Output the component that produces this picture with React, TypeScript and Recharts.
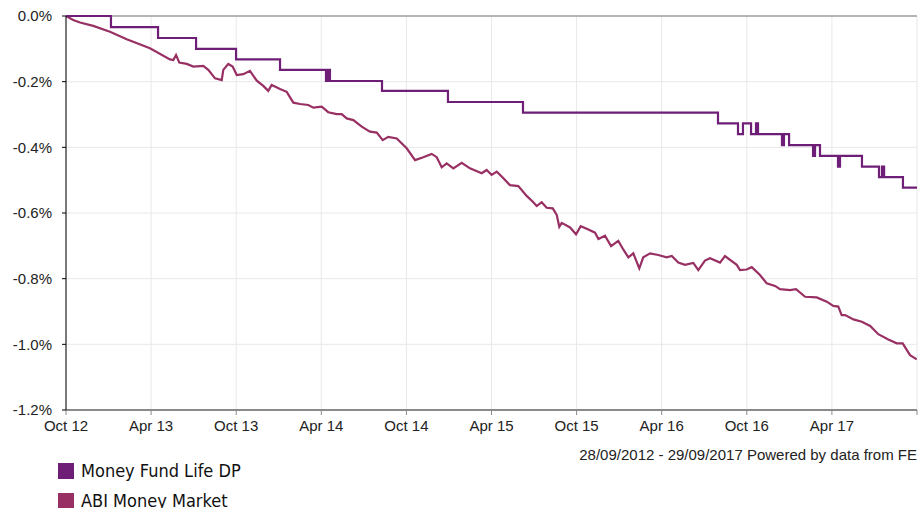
import React from "react";
import {
  LineChart,
  Line,
  XAxis,
  YAxis,
  CartesianGrid,
  ReferenceLine,
} from "recharts";

// x = months since Oct 2012, y = cumulative performance in %
const X_TICKS = [0, 6, 12, 18, 24, 30, 36, 42, 48, 54, 60];
const X_LABELS = ["Oct 12", "Apr 13", "Oct 13", "Apr 14", "Oct 14", "Apr 15", "Oct 15", "Apr 16", "Oct 16", "Apr 17", ""];
const Y_TICKS = [0, -0.2, -0.4, -0.6, -0.8, -1.0, -1.2];

// Money Fund Life DP (step changes)
const FUND_MONTHS = [0, 3.17, 6.49, 9.17, 11.99, 15.09, 18.33, 18.47, 18.61, 22.28, 26.93, 32.22, 45.97, 47.38, 47.73, 48.3, 48.65, 48.79, 50.48, 50.62, 50.98, 52.67, 52.81, 53.16, 54.43, 54.57, 56.12, 57.32, 57.53, 57.68, 59.01, 60];
const FUND_VALUES = [0, -0.034, -0.067, -0.1, -0.132, -0.164, -0.198, -0.164, -0.198, -0.228, -0.262, -0.294, -0.327, -0.36, -0.327, -0.36, -0.327, -0.36, -0.393, -0.36, -0.393, -0.426, -0.393, -0.426, -0.459, -0.426, -0.459, -0.491, -0.459, -0.491, -0.523, -0.523];

// ABI Money Market sector average
const ABI_MONTHS = [0, 0.51, 0.99, 1.92, 3.1, 4.28, 5.92, 7.33, 7.57, 7.76, 7.99, 8.51, 8.98, 9.68, 10.03, 10.51, 10.98, 11.09, 11.44, 11.75, 12.04, 12.5, 12.97, 13.45, 13.91, 14.26, 14.5, 15.09, 15.56, 16.03, 16.5, 17.08, 17.44, 18.03, 18.49, 19.09, 19.44, 19.79, 20.26, 20.85, 21.43, 21.91, 22.33, 22.72, 23.32, 24.02, 24.61, 25.19, 25.78, 26.14, 26.49, 26.84, 27.31, 27.9, 28.48, 29.31, 29.66, 30.01, 30.37, 30.72, 31.3, 31.89, 32.48, 32.95, 33.19, 33.54, 33.89, 34.32, 34.6, 34.78, 34.95, 35.54, 35.96, 36.29, 36.83, 37.3, 37.54, 38.0, 38.43, 38.94, 39.29, 39.65, 40.0, 40.42, 40.7, 41.18, 41.76, 42.35, 42.71, 43.17, 43.64, 44.23, 44.58, 45.05, 45.41, 46.11, 46.46, 47.29, 47.52, 47.99, 48.35, 48.93, 49.4, 49.99, 50.34, 51.05, 51.47, 52.11, 52.93, 53.64, 54.1, 54.45, 54.69, 54.93, 55.52, 56.11, 56.7, 57.27, 57.98, 58.57, 58.99, 59.51, 59.98];
const ABI_VALUES = [0, -0.012, -0.02, -0.03, -0.048, -0.071, -0.098, -0.132, -0.134, -0.119, -0.142, -0.146, -0.154, -0.152, -0.164, -0.19, -0.195, -0.164, -0.146, -0.154, -0.18, -0.177, -0.167, -0.197, -0.213, -0.228, -0.21, -0.222, -0.231, -0.264, -0.268, -0.271, -0.279, -0.276, -0.293, -0.299, -0.299, -0.312, -0.317, -0.337, -0.352, -0.355, -0.378, -0.368, -0.373, -0.403, -0.439, -0.43, -0.42, -0.43, -0.461, -0.449, -0.464, -0.447, -0.464, -0.479, -0.469, -0.484, -0.474, -0.489, -0.515, -0.518, -0.548, -0.567, -0.579, -0.567, -0.584, -0.586, -0.606, -0.642, -0.63, -0.644, -0.665, -0.64, -0.65, -0.66, -0.679, -0.669, -0.701, -0.685, -0.711, -0.735, -0.723, -0.769, -0.735, -0.723, -0.728, -0.735, -0.731, -0.751, -0.758, -0.752, -0.774, -0.745, -0.738, -0.751, -0.731, -0.758, -0.774, -0.772, -0.765, -0.789, -0.814, -0.822, -0.832, -0.835, -0.832, -0.855, -0.857, -0.87, -0.883, -0.885, -0.911, -0.911, -0.924, -0.931, -0.944, -0.969, -0.985, -0.997, -0.997, -1.033, -1.046];

const SERIES = [
  { name: "Money Fund Life DP", color: "#6e1e76" },
  { name: "ABI Money Market", color: "#983064" },
];

const fundData = FUND_MONTHS.map((m, i) => ({ m, v: FUND_VALUES[i] }));
const abiData = ABI_MONTHS.map((m, i) => ({ m, v: ABI_VALUES[i] }));

const tickFont = { fontFamily: "Liberation Sans, Arial, sans-serif", fontSize: 15, fill: "#222" };

export default function App() {
  return (
    <div style={{ position: "absolute", left: 0, top: 0, width: 919, height: 508, overflow: "hidden", background: "#fff" }}>
      <LineChart width={919} height={440} margin={{ top: 16, right: 2, left: 0, bottom: 0 }}>
        <CartesianGrid stroke="#e8e8e8" strokeWidth={1} horizontalValues={Y_TICKS} verticalValues={X_TICKS} />
        <XAxis
          type="number"
          dataKey="m"
          domain={[0, 60]}
          ticks={X_TICKS}
          tickFormatter={(v: number) => X_LABELS[X_TICKS.indexOf(v)] ?? ""}
          axisLine={{ stroke: "#8a8a8a", strokeWidth: 2 }}
          tickLine={{ stroke: "#8a8a8a" }}
          tickSize={5}
          tickMargin={5}
          height={30}
          tick={tickFont}
          interval={0}
          allowDataOverflow
        />
        <YAxis
          type="number"
          domain={[-1.2, 0]}
          ticks={Y_TICKS}
          tickFormatter={(v: number) => `${v.toFixed(1)}%`}
          axisLine={{ stroke: "#000" }}
          tickLine={{ stroke: "#000" }}
          tickSize={4}
          tickMargin={10}
          width={66}
          tick={tickFont}
          interval={0}
        />
        <ReferenceLine y={0} stroke="#a0a0a0" strokeWidth={1.5} />
        <Line
          data={abiData}
          dataKey="v"
          name={SERIES[1].name}
          type="linear"
          stroke={SERIES[1].color}
          strokeWidth={2.2}
          dot={false}
          isAnimationActive={false}
        />
        <Line
          data={fundData}
          dataKey="v"
          name={SERIES[0].name}
          type="stepAfter"
          stroke={SERIES[0].color}
          strokeWidth={2.2}
          dot={false}
          isAnimationActive={false}
        />
      </LineChart>
      <div
        style={{
          position: "absolute",
          right: 2,
          top: 446,
          fontFamily: "Liberation Sans, Arial, sans-serif",
          fontSize: 15,
          color: "#222",
          whiteSpace: "nowrap",
        }}
      >
        28/09/2012 - 29/09/2017 Powered by data from FE
      </div>
      {SERIES.map((s, i) => (
        <div
          key={s.name}
          style={{
            position: "absolute",
            left: 58,
            top: 460 + i * 30,
            height: 21,
            display: "flex",
            alignItems: "center",
            fontFamily: "DejaVu Sans Condensed, DejaVu Sans, sans-serif",
            fontStretch: "condensed",
            fontSize: 18,
            lineHeight: "21px",
            color: "#111",
            whiteSpace: "nowrap",
          }}
        >
          <span style={{ display: "inline-block", width: 16, height: 16, background: s.color, marginRight: 7 }} />
          {s.name}
        </div>
      ))}
    </div>
  );
}
